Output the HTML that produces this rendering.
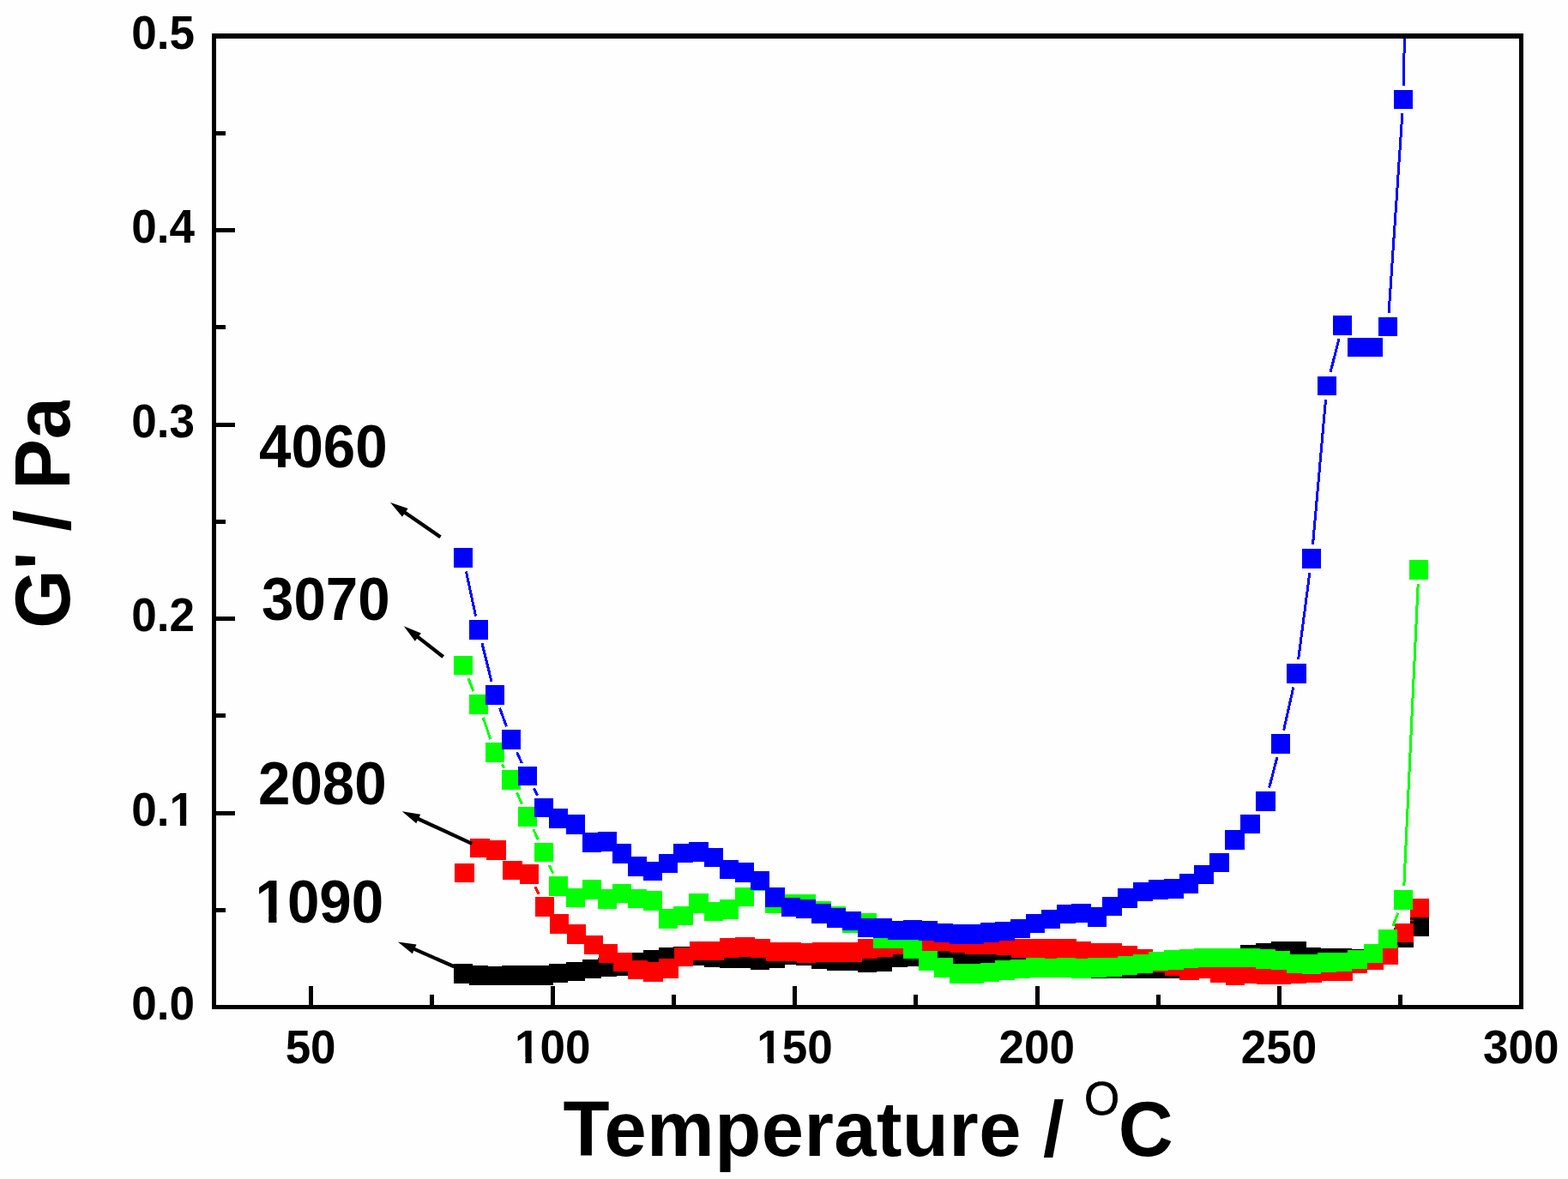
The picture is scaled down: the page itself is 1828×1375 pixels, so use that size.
<!DOCTYPE html>
<html lang="en"><head><meta charset="utf-8"><title>G' / Pa vs Temperature</title>
<style>
html,body{margin:0;padding:0;background:#fefefe;}
body{width:1828px;height:1375px;overflow:hidden;}
svg{display:block;}
text{font-family:"Liberation Sans",Arial,Helvetica,sans-serif;font-weight:bold;fill:#000;}
.tk{font-size:53px;}
.an{font-size:67.3px;}
.ti{font-size:88.5px;}
.sup{font-size:53px;font-weight:normal;}
.mk rect,.mk path{shape-rendering:crispEdges;}
.ax{stroke:#000;fill:none;shape-rendering:crispEdges;}
</style></head><body>
<svg width="1828" height="1375" viewBox="0 0 1828 1375">
<rect x="0" y="0" width="1828" height="1375" fill="#fefefe"/>
<defs><clipPath id="plot"><rect x="249.5" y="42" width="1524" height="1132.5"/></clipPath></defs>
<g id="s1090" class="mk" clip-path="url(#plot)">
<g fill="#000000"><rect x="528.8" y="1124.2" width="22.5" height="22.5"/><rect x="546.8" y="1126.2" width="22.5" height="22.5"/><rect x="565.8" y="1126.8" width="22.5" height="22.5"/><rect x="584.8" y="1126.2" width="22.5" height="22.5"/><rect x="603.8" y="1126.2" width="22.5" height="22.5"/><rect x="622.8" y="1126.2" width="22.5" height="22.5"/><rect x="639.8" y="1123.8" width="22.5" height="22.5"/><rect x="659.8" y="1121.8" width="22.5" height="22.5"/><rect x="678.8" y="1118.8" width="22.5" height="22.5"/><rect x="696.8" y="1116.8" width="22.5" height="22.5"/><rect x="713.8" y="1115.2" width="22.5" height="22.5"/><rect x="731.8" y="1111.2" width="22.5" height="22.5"/><rect x="749.8" y="1108.2" width="22.5" height="22.5"/><rect x="767.8" y="1105.2" width="22.5" height="22.5"/><rect x="785.2" y="1103.8" width="22.5" height="22.5"/><rect x="803.2" y="1103.5" width="22.5" height="22.5"/><rect x="820.8" y="1105.3" width="22.5" height="22.5"/><rect x="838.8" y="1106.2" width="22.5" height="22.5"/><rect x="856.8" y="1106.8" width="22.5" height="22.5"/><rect x="874.8" y="1108.2" width="22.5" height="22.5"/><rect x="892.2" y="1106.2" width="22.5" height="22.5"/><rect x="910.8" y="1102.2" width="22.5" height="22.5"/><rect x="928.2" y="1103.2" width="22.5" height="22.5"/><rect x="946.2" y="1107.2" width="22.5" height="22.5"/><rect x="963.8" y="1109.2" width="22.5" height="22.5"/><rect x="981.8" y="1109.2" width="22.5" height="22.5"/><rect x="999.8" y="1111.2" width="22.5" height="22.5"/><rect x="1017.8" y="1110.2" width="22.5" height="22.5"/><rect x="1035.2" y="1105.2" width="22.5" height="22.5"/><rect x="1052.8" y="1104.2" width="22.5" height="22.5"/><rect x="1070.8" y="1104.8" width="22.5" height="22.5"/><rect x="1088.8" y="1106.8" width="22.5" height="22.5"/><rect x="1106.8" y="1106.8" width="22.5" height="22.5"/><rect x="1124.8" y="1106.8" width="22.5" height="22.5"/><rect x="1142.8" y="1106.8" width="22.5" height="22.5"/><rect x="1160.2" y="1106.8" width="22.5" height="22.5"/><rect x="1178.2" y="1106.8" width="22.5" height="22.5"/><rect x="1195.8" y="1108.8" width="22.5" height="22.5"/><rect x="1213.8" y="1110.8" width="22.5" height="22.5"/><rect x="1231.8" y="1112.8" width="22.5" height="22.5"/><rect x="1249.2" y="1114.8" width="22.5" height="22.5"/><rect x="1267.8" y="1118.2" width="22.5" height="22.5"/><rect x="1285.2" y="1118.2" width="22.5" height="22.5"/><rect x="1303.2" y="1118.2" width="22.5" height="22.5"/><rect x="1321.2" y="1118.2" width="22.5" height="22.5"/><rect x="1339.2" y="1118.2" width="22.5" height="22.5"/><rect x="1357.2" y="1118.2" width="22.5" height="22.5"/><rect x="1374.8" y="1114.8" width="22.5" height="22.5"/><rect x="1392.2" y="1111.8" width="22.5" height="22.5"/><rect x="1410.2" y="1108.8" width="22.5" height="22.5"/><rect x="1428.2" y="1106.8" width="22.5" height="22.5"/><rect x="1446.2" y="1102.2" width="22.5" height="22.5"/><rect x="1464.2" y="1100.2" width="22.5" height="22.5"/><rect x="1481.8" y="1098.2" width="22.5" height="22.5"/><rect x="1500.2" y="1098.2" width="22.5" height="22.5"/><rect x="1517.8" y="1105.2" width="22.5" height="22.5"/><rect x="1535.8" y="1106.2" width="22.5" height="22.5"/><rect x="1553.8" y="1106.2" width="22.5" height="22.5"/><rect x="1571.2" y="1107.2" width="22.5" height="22.5"/><rect x="1589.8" y="1103.8" width="22.5" height="22.5"/><rect x="1606.8" y="1096.8" width="22.5" height="22.5"/><rect x="1625.2" y="1082.2" width="22.5" height="22.5"/><rect x="1643.8" y="1069.2" width="22.5" height="22.5"/></g>
</g>
<g id="s2080" class="mk" clip-path="url(#plot)">
<g fill="#ff0000"><rect x="530.2" y="1006.8" width="22.5" height="22.5"/><rect x="548.2" y="977.8" width="22.5" height="22.5"/><rect x="567.2" y="980.2" width="22.5" height="22.5"/><rect x="586.2" y="1003.8" width="22.5" height="22.5"/><rect x="605.8" y="1008.2" width="22.5" height="22.5"/><rect x="623.8" y="1046.2" width="22.5" height="22.5"/><rect x="640.8" y="1066.2" width="22.5" height="22.5"/><rect x="660.8" y="1078.2" width="22.5" height="22.5"/><rect x="680.8" y="1090.8" width="22.5" height="22.5"/><rect x="697.8" y="1100.8" width="22.5" height="22.5"/><rect x="714.8" y="1110.8" width="22.5" height="22.5"/><rect x="732.2" y="1119.8" width="22.5" height="22.5"/><rect x="750.2" y="1122.2" width="22.5" height="22.5"/><rect x="768.2" y="1118.2" width="22.5" height="22.5"/><rect x="785.8" y="1104.8" width="22.5" height="22.5"/><rect x="803.8" y="1097.8" width="22.5" height="22.5"/><rect x="821.2" y="1097.8" width="22.5" height="22.5"/><rect x="839.2" y="1094.2" width="22.5" height="22.5"/><rect x="857.2" y="1093.2" width="22.5" height="22.5"/><rect x="875.2" y="1094.8" width="22.5" height="22.5"/><rect x="892.8" y="1098.8" width="22.5" height="22.5"/><rect x="911.2" y="1098.8" width="22.5" height="22.5"/><rect x="928.8" y="1100.2" width="22.5" height="22.5"/><rect x="946.8" y="1099.2" width="22.5" height="22.5"/><rect x="964.2" y="1099.2" width="22.5" height="22.5"/><rect x="982.2" y="1099.2" width="22.5" height="22.5"/><rect x="1000.2" y="1095.2" width="22.5" height="22.5"/><rect x="1018.2" y="1093.2" width="22.5" height="22.5"/><rect x="1035.8" y="1090.2" width="22.5" height="22.5"/><rect x="1053.2" y="1094.8" width="22.5" height="22.5"/><rect x="1071.2" y="1087.8" width="22.5" height="22.5"/><rect x="1089.2" y="1086.0" width="22.5" height="22.5"/><rect x="1107.2" y="1088.2" width="22.5" height="22.5"/><rect x="1125.2" y="1090.2" width="22.5" height="22.5"/><rect x="1143.2" y="1090.2" width="22.5" height="22.5"/><rect x="1160.8" y="1091.2" width="22.5" height="22.5"/><rect x="1178.8" y="1094.8" width="22.5" height="22.5"/><rect x="1196.2" y="1095.2" width="22.5" height="22.5"/><rect x="1214.2" y="1095.2" width="22.5" height="22.5"/><rect x="1232.2" y="1095.2" width="22.5" height="22.5"/><rect x="1249.8" y="1098.2" width="22.5" height="22.5"/><rect x="1268.2" y="1100.2" width="22.5" height="22.5"/><rect x="1285.8" y="1100.2" width="22.5" height="22.5"/><rect x="1303.8" y="1103.2" width="22.5" height="22.5"/><rect x="1321.8" y="1107.2" width="22.5" height="22.5"/><rect x="1339.8" y="1111.2" width="22.5" height="22.5"/><rect x="1357.8" y="1115.2" width="22.5" height="22.5"/><rect x="1375.2" y="1120.2" width="22.5" height="22.5"/><rect x="1392.8" y="1118.2" width="22.5" height="22.5"/><rect x="1410.8" y="1123.2" width="22.5" height="22.5"/><rect x="1428.8" y="1126.2" width="22.5" height="22.5"/><rect x="1446.8" y="1124.2" width="22.5" height="22.5"/><rect x="1464.8" y="1125.2" width="22.5" height="22.5"/><rect x="1482.2" y="1125.2" width="22.5" height="22.5"/><rect x="1500.8" y="1124.2" width="22.5" height="22.5"/><rect x="1518.2" y="1123.2" width="22.5" height="22.5"/><rect x="1536.2" y="1121.2" width="22.5" height="22.5"/><rect x="1554.2" y="1121.2" width="22.5" height="22.5"/><rect x="1571.8" y="1112.2" width="22.5" height="22.5"/><rect x="1590.2" y="1108.2" width="22.5" height="22.5"/><rect x="1607.8" y="1102.2" width="22.5" height="22.5"/><rect x="1625.8" y="1076.8" width="22.5" height="22.5"/><rect x="1643.8" y="1047.8" width="22.5" height="22.5"/></g>
<path d="M624.0 1034.2L628.0 1042.8M1645.6 1074.2L1646.4 1072.8" stroke="#ff0000" stroke-width="3" fill="none"/>
</g>
<g id="s3070" class="mk" clip-path="url(#plot)">
<g fill="#00ff00"><rect x="528.8" y="764.8" width="22.5" height="22.5"/><rect x="546.8" y="810.2" width="22.5" height="22.5"/><rect x="565.8" y="866.2" width="22.5" height="22.5"/><rect x="584.8" y="898.2" width="22.5" height="22.5"/><rect x="603.8" y="941.2" width="22.5" height="22.5"/><rect x="622.8" y="982.8" width="22.5" height="22.5"/><rect x="639.8" y="1022.2" width="22.5" height="22.5"/><rect x="659.8" y="1035.8" width="22.5" height="22.5"/><rect x="678.8" y="1026.2" width="22.5" height="22.5"/><rect x="696.8" y="1037.2" width="22.5" height="22.5"/><rect x="713.8" y="1030.8" width="22.5" height="22.5"/><rect x="731.8" y="1036.8" width="22.5" height="22.5"/><rect x="749.8" y="1039.2" width="22.5" height="22.5"/><rect x="767.8" y="1060.2" width="22.5" height="22.5"/><rect x="785.2" y="1056.8" width="22.5" height="22.5"/><rect x="803.2" y="1042.2" width="22.5" height="22.5"/><rect x="820.8" y="1051.8" width="22.5" height="22.5"/><rect x="838.8" y="1049.2" width="22.5" height="22.5"/><rect x="856.8" y="1034.8" width="22.5" height="22.5"/><rect x="874.8" y="1016.8" width="22.5" height="22.5"/><rect x="892.2" y="1042.2" width="22.5" height="22.5"/><rect x="910.8" y="1043.2" width="22.5" height="22.5"/><rect x="928.2" y="1043.2" width="22.5" height="22.5"/><rect x="946.2" y="1051.2" width="22.5" height="22.5"/><rect x="963.8" y="1057.2" width="22.5" height="22.5"/><rect x="981.8" y="1065.2" width="22.5" height="22.5"/><rect x="999.8" y="1065.2" width="22.5" height="22.5"/><rect x="1017.8" y="1083.2" width="22.5" height="22.5"/><rect x="1035.2" y="1083.2" width="22.5" height="22.5"/><rect x="1052.8" y="1095.2" width="22.5" height="22.5"/><rect x="1070.8" y="1109.2" width="22.5" height="22.5"/><rect x="1088.8" y="1117.2" width="22.5" height="22.5"/><rect x="1106.8" y="1124.2" width="22.5" height="22.5"/><rect x="1124.8" y="1124.2" width="22.5" height="22.5"/><rect x="1142.8" y="1122.8" width="22.5" height="22.5"/><rect x="1160.2" y="1120.2" width="22.5" height="22.5"/><rect x="1178.2" y="1118.8" width="22.5" height="22.5"/><rect x="1195.8" y="1117.2" width="22.5" height="22.5"/><rect x="1213.8" y="1117.8" width="22.5" height="22.5"/><rect x="1231.8" y="1117.2" width="22.5" height="22.5"/><rect x="1249.2" y="1118.2" width="22.5" height="22.5"/><rect x="1267.8" y="1117.2" width="22.5" height="22.5"/><rect x="1285.2" y="1116.8" width="22.5" height="22.5"/><rect x="1303.2" y="1114.8" width="22.5" height="22.5"/><rect x="1321.2" y="1112.8" width="22.5" height="22.5"/><rect x="1339.2" y="1109.8" width="22.5" height="22.5"/><rect x="1357.2" y="1108.2" width="22.5" height="22.5"/><rect x="1374.8" y="1106.8" width="22.5" height="22.5"/><rect x="1392.2" y="1105.8" width="22.5" height="22.5"/><rect x="1410.2" y="1105.8" width="22.5" height="22.5"/><rect x="1428.2" y="1105.8" width="22.5" height="22.5"/><rect x="1446.2" y="1105.8" width="22.5" height="22.5"/><rect x="1464.2" y="1107.2" width="22.5" height="22.5"/><rect x="1481.8" y="1108.8" width="22.5" height="22.5"/><rect x="1500.2" y="1112.8" width="22.5" height="22.5"/><rect x="1517.8" y="1113.2" width="22.5" height="22.5"/><rect x="1535.8" y="1111.2" width="22.5" height="22.5"/><rect x="1553.8" y="1110.8" width="22.5" height="22.5"/><rect x="1571.2" y="1107.8" width="22.5" height="22.5"/><rect x="1589.8" y="1100.8" width="22.5" height="22.5"/><rect x="1606.8" y="1083.8" width="22.5" height="22.5"/><rect x="1624.8" y="1038.2" width="22.5" height="22.5"/><rect x="1642.8" y="653.2" width="22.5" height="22.5"/></g>
<path d="M546.0 791.2L552.0 806.3M563.2 836.9L571.8 862.1M585.3 891.5L587.7 895.5M602.6 924.4L608.4 937.6M621.8 967.3L627.2 979.2M640.4 1009.0L644.6 1018.5M1624.0 1079.8L1630.0 1064.7M1636.8 1033.2L1653.2 680.8" stroke="#00ff00" stroke-width="3" fill="none"/>
</g>
<g id="s4060" class="mk" clip-path="url(#plot)">
<g fill="#0000ff"><rect x="528.8" y="639.2" width="22.5" height="22.5"/><rect x="546.8" y="723.2" width="22.5" height="22.5"/><rect x="565.8" y="799.2" width="22.5" height="22.5"/><rect x="584.8" y="851.2" width="22.5" height="22.5"/><rect x="603.8" y="893.8" width="22.5" height="22.5"/><rect x="622.8" y="930.8" width="22.5" height="22.5"/><rect x="639.8" y="943.2" width="22.5" height="22.5"/><rect x="659.8" y="950.2" width="22.5" height="22.5"/><rect x="678.8" y="971.2" width="22.5" height="22.5"/><rect x="696.8" y="970.2" width="22.5" height="22.5"/><rect x="713.8" y="984.2" width="22.5" height="22.5"/><rect x="731.8" y="999.2" width="22.5" height="22.5"/><rect x="749.8" y="1004.8" width="22.5" height="22.5"/><rect x="767.8" y="995.8" width="22.5" height="22.5"/><rect x="785.2" y="983.8" width="22.5" height="22.5"/><rect x="803.2" y="982.2" width="22.5" height="22.5"/><rect x="820.8" y="988.8" width="22.5" height="22.5"/><rect x="838.8" y="1002.8" width="22.5" height="22.5"/><rect x="856.8" y="1006.2" width="22.5" height="22.5"/><rect x="874.8" y="1015.8" width="22.5" height="22.5"/><rect x="892.2" y="1035.2" width="22.5" height="22.5"/><rect x="910.8" y="1046.8" width="22.5" height="22.5"/><rect x="928.2" y="1048.8" width="22.5" height="22.5"/><rect x="946.2" y="1054.2" width="22.5" height="22.5"/><rect x="963.8" y="1059.2" width="22.5" height="22.5"/><rect x="981.8" y="1062.8" width="22.5" height="22.5"/><rect x="999.8" y="1070.8" width="22.5" height="22.5"/><rect x="1017.8" y="1071.2" width="22.5" height="22.5"/><rect x="1035.2" y="1073.8" width="22.5" height="22.5"/><rect x="1052.8" y="1073.2" width="22.5" height="22.5"/><rect x="1070.8" y="1074.2" width="22.5" height="22.5"/><rect x="1088.8" y="1076.8" width="22.5" height="22.5"/><rect x="1106.8" y="1078.2" width="22.5" height="22.5"/><rect x="1124.8" y="1078.2" width="22.5" height="22.5"/><rect x="1142.8" y="1076.2" width="22.5" height="22.5"/><rect x="1160.2" y="1074.8" width="22.5" height="22.5"/><rect x="1178.2" y="1071.8" width="22.5" height="22.5"/><rect x="1195.8" y="1065.8" width="22.5" height="22.5"/><rect x="1213.8" y="1060.8" width="22.5" height="22.5"/><rect x="1231.8" y="1054.8" width="22.5" height="22.5"/><rect x="1249.2" y="1053.8" width="22.5" height="22.5"/><rect x="1267.8" y="1058.2" width="22.5" height="22.5"/><rect x="1285.2" y="1045.8" width="22.5" height="22.5"/><rect x="1303.2" y="1036.2" width="22.5" height="22.5"/><rect x="1321.2" y="1028.8" width="22.5" height="22.5"/><rect x="1339.2" y="1026.2" width="22.5" height="22.5"/><rect x="1357.2" y="1025.2" width="22.5" height="22.5"/><rect x="1374.8" y="1019.2" width="22.5" height="22.5"/><rect x="1392.2" y="1008.8" width="22.5" height="22.5"/><rect x="1410.2" y="994.8" width="22.5" height="22.5"/><rect x="1428.2" y="968.2" width="22.5" height="22.5"/><rect x="1446.2" y="949.8" width="22.5" height="22.5"/><rect x="1464.2" y="923.2" width="22.5" height="22.5"/><rect x="1481.8" y="856.2" width="22.5" height="22.5"/><rect x="1500.2" y="774.2" width="22.5" height="22.5"/><rect x="1517.8" y="640.2" width="22.5" height="22.5"/><rect x="1535.8" y="438.8" width="22.5" height="22.5"/><rect x="1553.8" y="368.2" width="22.5" height="22.5"/><rect x="1571.2" y="393.8" width="22.5" height="22.5"/><rect x="1589.8" y="393.8" width="22.5" height="22.5"/><rect x="1606.8" y="369.8" width="22.5" height="22.5"/><rect x="1624.8" y="104.8" width="22.5" height="22.5"/></g>
<path d="M543.4 666.4L554.6 718.6M562.0 750.3L573.0 794.7M582.6 825.8L590.4 847.2M602.7 877.4L608.3 890.1M622.4 919.5L626.6 927.5M1479.6 918.7L1488.9 883.3M1496.6 851.6L1507.9 801.4M1513.6 769.3L1526.9 667.7M1530.5 635.3L1545.5 466.2M1551.0 434.2L1561.0 395.3M1619.1 364.7L1634.9 132.3M1636.3 99.7L1653.7 -823.7" stroke="#0000ff" stroke-width="3" fill="none"/>
</g>
<g id="axes">
<rect class="ax" x="249.5" y="42" width="1524" height="1132.5" stroke-width="5.2"/>
<path class="ax" d="M362.4 1174.5V1149.9M503.5 1174.5V1159.9M644.6 1174.5V1149.9M785.7 1174.5V1159.9M926.8 1174.5V1149.9M1067.9 1174.5V1159.9M1209.1 1174.5V1149.9M1350.2 1174.5V1159.9M1491.3 1174.5V1149.9M1632.4 1174.5V1159.9M249.5 1061.2H263.0M249.5 948.0H274.1M249.5 834.8H263.0M249.5 721.5H274.1M249.5 608.2H263.0M249.5 495.0H274.1M249.5 381.7H263.0M249.5 268.5H274.1M249.5 155.2H263.0" stroke-width="5"/>
</g>
<g id="xticks" class="tk" text-anchor="middle">
<text transform="translate(362.1 1240) scale(1 1.05)">50</text>
<text transform="translate(644.3 1240) scale(1 1.05)">100</text>
<text transform="translate(926.5 1240) scale(1 1.05)">150</text>
<text transform="translate(1208.8 1240) scale(1 1.05)">200</text>
<text transform="translate(1491.0 1240) scale(1 1.05)">250</text>
<text transform="translate(1773.2 1240) scale(1 1.05)">300</text>
</g>
<g id="yticks" class="tk" text-anchor="end">
<text transform="translate(227 1189.2) scale(1 1.05)">0.0</text>
<text transform="translate(227 962.7) scale(1 1.05)">0.1</text>
<text transform="translate(227 736.2) scale(1 1.05)">0.2</text>
<text transform="translate(227 509.7) scale(1 1.05)">0.3</text>
<text transform="translate(227 283.2) scale(1 1.05)">0.4</text>
<text transform="translate(227 56.7) scale(1 1.05)">0.5</text>
</g>
<text id="xtitle" class="ti" transform="translate(656.5 1347.8) scale(1 1.036)" xml:space="preserve"><tspan letter-spacing="0.45">Temperature / </tspan><tspan class="sup" dy="-46.5" dx="-2" stroke="#000" stroke-width="0.7">O</tspan><tspan dy="46.5" dx="-1.5">C</tspan></text>
<text id="ytitle" class="ti" letter-spacing="-0.3" transform="translate(81 733) rotate(-90) scale(1 1.036)" xml:space="preserve">G' / Pa</text>
<g id="labels" class="an">
<text transform="translate(302 545.3) scale(1 1.06)">4060</text>
<text transform="translate(305 722.8) scale(1 1.06)">3070</text>
<text transform="translate(301 937.7) scale(1 1.06)">2080</text>
<text transform="translate(297.5 1075.5) scale(1 1.06)">1090</text>
</g>
<g id="mask" fill="#fefefe"><rect x="602.44" y="1232.82" width="10.03" height="8.68"/><rect x="619.74" y="1232.82" width="9.36" height="8.68"/><rect x="884.66" y="1232.82" width="10.03" height="8.68"/><rect x="901.96" y="1232.82" width="9.36" height="8.68"/><rect x="199.86" y="955.52" width="10.03" height="8.68"/><rect x="217.17" y="955.52" width="9.36" height="8.68"/><rect x="55" y="452" width="40" height="15"/><rect x="300.74" y="1066.72" width="12.47" height="10.28"/><rect x="322.44" y="1066.72" width="11.61" height="10.28"/></g>
<g id="arrows">
<path d="M513.5 626.3L470.6 596.8" stroke="#000" stroke-width="4.3" fill="none"/><path d="M455.0 586.0L475.6 593.1L469.0 602.7Z" fill="#000"/>
<path d="M516.7 766.0L485.8 741.9" stroke="#000" stroke-width="4.3" fill="none"/><path d="M470.8 730.2L490.9 738.5L483.8 747.7Z" fill="#000"/>
<path d="M550.1 983.9L485.9 954.2" stroke="#000" stroke-width="4.3" fill="none"/><path d="M468.7 946.2L490.2 949.8L485.3 960.3Z" fill="#000"/>
<path d="M529.4 1127.3L481.3 1106.1" stroke="#000" stroke-width="4.3" fill="none"/><path d="M463.9 1098.5L485.5 1101.6L480.8 1112.3Z" fill="#000"/>
</g>
</svg></body></html>
